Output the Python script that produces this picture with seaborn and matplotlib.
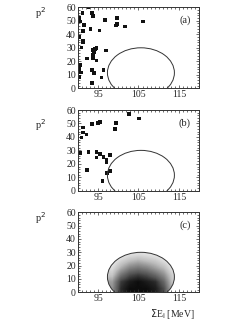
import matplotlib
matplotlib.use("Agg")
import matplotlib.pyplot as plt
from matplotlib.patches import Ellipse
from matplotlib.ticker import MultipleLocator, FixedLocator
import numpy as np
import pandas as pd
import seaborn as sns

# events in panel (a): sum of energies and p^2
a_energy = [92.6, 91.1, 90.3, 90.5, 91.5, 91.2, 93.1, 93.5, 93.8, 95.3, 96.7, 99.6,
            99.7, 99.5, 101.7, 106.1, 90.3, 91.2, 91.3, 90.9, 93.6, 93.9, 94.3, 94.6,
            93.8, 96.9, 92.2, 93.8, 94.6, 90.5, 90.3, 90.7, 93.5, 94.0, 96.3, 95.8,
            93.5, 90.2]
a_p2 = [60.0, 55.6, 51.9, 49.4, 46.9, 42.5, 43.7, 56.0, 53.6, 42.7, 50.6, 52.3,
        47.4, 46.4, 45.7, 49.4, 37.8, 35.3, 34.1, 30.1, 28.4, 26.4, 28.9, 29.6,
        24.7, 27.9, 22.0, 22.2, 20.5, 17.3, 14.3, 11.6, 13.3, 11.1, 13.6, 7.9,
        4.0, 8.6]

# events in panel (b)
b_energy = [91.2, 91.2, 90.9, 92.1, 93.5, 94.9, 95.4, 99.4, 99.2, 102.7, 105.1, 90.5,
            92.6, 94.6, 95.4, 96.3, 94.6, 97.1, 97.1, 97.9, 97.9, 97.2, 92.3, 96.1]
b_p2 = [47.1, 43.4, 39.5, 41.7, 49.6, 50.4, 50.9, 50.4, 45.9, 57.1, 53.6, 27.8,
        29.0, 28.8, 27.3, 25.3, 24.8, 23.3, 21.1, 26.6, 14.9, 13.4, 15.4, 7.4]

# panel (c): simulated event density (relative darkness), rows = p^2 bins, cols = energy bins
c_energy_bins = [99, 101, 103, 105, 107, 109, 111, 113]
c_p2_bins = [2.5, 7.5, 12.5, 17.5, 22.5, 27.5]
c_density = [
    [0.55, 0.90, 1.00, 1.00, 1.00, 0.95, 0.80, 0.40],
    [0.50, 0.85, 0.95, 1.00, 0.95, 0.90, 0.70, 0.35],
    [0.35, 0.65, 0.80, 0.85, 0.80, 0.70, 0.55, 0.30],
    [0.25, 0.45, 0.60, 0.65, 0.60, 0.50, 0.40, 0.20],
    [0.15, 0.30, 0.40, 0.45, 0.40, 0.35, 0.25, 0.15],
    [0.08, 0.15, 0.22, 0.25, 0.22, 0.18, 0.12, 0.08],
]

# acceptance contour (ellipse cut off at p^2 = 0)
cut_center = (105.6, 11.5)
cut_width = 16.6
cut_height = 37.0

sns.set_style("ticks")
plt.rcParams['font.family'] = ['Liberation Serif', 'DejaVu Serif']
plt.rcParams['font.size'] = 7

fig = plt.figure(figsize=(2.46, 3.24), dpi=100)
ax_a = fig.add_axes([0.317, 0.7275, 0.492, 0.25])
ax_b = fig.add_axes([0.317, 0.4114, 0.492, 0.249])
ax_c = fig.add_axes([0.317, 0.0978, 0.492, 0.2470])

df_a = pd.DataFrame({'E': a_energy, 'p2': a_p2})
df_b = pd.DataFrame({'E': b_energy, 'p2': b_p2})

sns.scatterplot(data=df_a, x='E', y='p2', ax=ax_a, s=7, color='#111111',
                edgecolor='none', marker='s')
sns.scatterplot(data=df_b, x='E', y='p2', ax=ax_b, s=7, color='#111111',
                edgecolor='none', marker='s')

# density image clipped to the contour
dens = np.array(c_density)
c_x = np.array(c_energy_bins)
c_y = np.array(c_p2_bins)
im = ax_c.imshow(dens, origin='lower', cmap='Greys', vmin=0, vmax=1.05,
                 extent=[c_x[0] - 1.5, c_x[-1] + 1.5, c_y[0] - 2.5, c_y[-1] + 3],
                 aspect='auto', interpolation='bilinear')
clip = Ellipse(cut_center, cut_width, cut_height, transform=ax_c.transData,
               facecolor='none', edgecolor='none')
ax_c.add_patch(clip)
im.set_clip_path(clip)

labels = ['(a)', '(b)', '(c)']
label_y = [0.93, 0.81, 0.93]
for ax, lab, ly in zip([ax_a, ax_b, ax_c], labels, label_y):
    ax.add_patch(Ellipse(cut_center, cut_width, cut_height, facecolor='none',
                         edgecolor='#333333', linewidth=0.7))
    ax.set_xlim(90, 120)
    ax.set_ylim(0, 60)
    ax.xaxis.set_major_locator(FixedLocator([95, 105, 115]))
    ax.xaxis.set_minor_locator(MultipleLocator(1))
    ax.yaxis.set_major_locator(MultipleLocator(10))
    ax.yaxis.set_minor_locator(MultipleLocator(2))
    ax.tick_params(which='both', direction='in', top=True, right=True,
                   width=0.5, color='#333333', labelsize=7, pad=1.5)
    ax.tick_params(which='major', length=2.5)
    ax.tick_params(which='minor', length=1.2)
    for sp in ax.spines.values():
        sp.set_linewidth(0.7)
        sp.set_color('#333333')
    ax.set_xlabel('')
    ax.set_ylabel('')
    ax.text(0.93, 0.84, lab, transform=ax.transAxes, ha='right', va='center',
            fontsize=7.5)
    ax.text(-0.31, ly, 'p$^2$', transform=ax.transAxes, ha='center', va='center',
            fontsize=7.5)

ax_c.text(0.78, -0.27, r'$\Sigma$E$_{\rm i}$ [MeV]', transform=ax_c.transAxes,
          ha='center', va='center', fontsize=7)

fig.savefig('out.png', dpi=100)
